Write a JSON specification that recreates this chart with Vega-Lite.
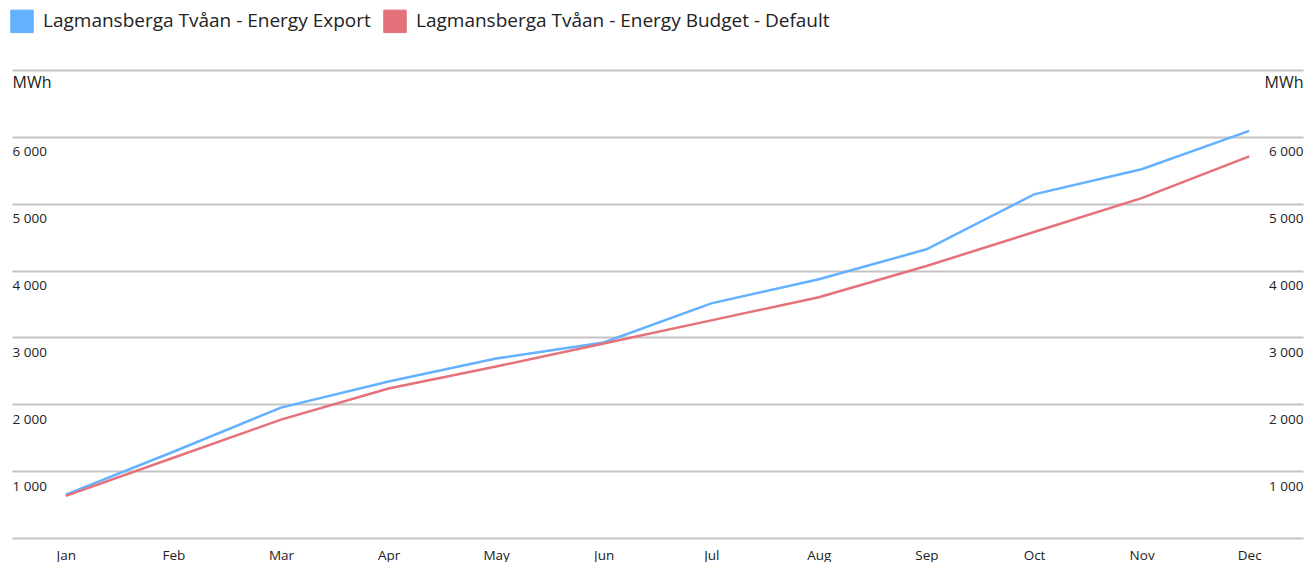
{
  "$schema": "https://vega.github.io/schema/vega-lite/v6.json",
  "width": 1291,
  "height": 468,
  "padding": {"left": 10, "top": 9, "right": 2, "bottom": 0},
  "background": "#ffffff",
  "config": {
    "font": "Open Sans",
    "view": {"stroke": null},
    "axis": {"labelColor": "#222222", "labelFont": "Open Sans"},
    "legend": {"labelFont": "Open Sans"}
  },
  "data": {
    "values": [
      {"month": "Jan", "series": "Lagmansberga Tvåan - Energy Export", "value": 650},
      {"month": "Feb", "series": "Lagmansberga Tvåan - Energy Export", "value": 1290},
      {"month": "Mar", "series": "Lagmansberga Tvåan - Energy Export", "value": 1950},
      {"month": "Apr", "series": "Lagmansberga Tvåan - Energy Export", "value": 2340},
      {"month": "May", "series": "Lagmansberga Tvåan - Energy Export", "value": 2685},
      {"month": "Jun", "series": "Lagmansberga Tvåan - Energy Export", "value": 2925},
      {"month": "Jul", "series": "Lagmansberga Tvåan - Energy Export", "value": 3510},
      {"month": "Aug", "series": "Lagmansberga Tvåan - Energy Export", "value": 3870},
      {"month": "Sep", "series": "Lagmansberga Tvåan - Energy Export", "value": 4318},
      {"month": "Oct", "series": "Lagmansberga Tvåan - Energy Export", "value": 5140},
      {"month": "Nov", "series": "Lagmansberga Tvåan - Energy Export", "value": 5515},
      {"month": "Dec", "series": "Lagmansberga Tvåan - Energy Export", "value": 6090},
      {"month": "Jan", "series": "Lagmansberga Tvåan - Energy Budget - Default", "value": 630},
      {"month": "Feb", "series": "Lagmansberga Tvåan - Energy Budget - Default", "value": 1200},
      {"month": "Mar", "series": "Lagmansberga Tvåan - Energy Budget - Default", "value": 1770},
      {"month": "Apr", "series": "Lagmansberga Tvåan - Energy Budget - Default", "value": 2235},
      {"month": "May", "series": "Lagmansberga Tvåan - Energy Budget - Default", "value": 2565},
      {"month": "Jun", "series": "Lagmansberga Tvåan - Energy Budget - Default", "value": 2910},
      {"month": "Jul", "series": "Lagmansberga Tvåan - Energy Budget - Default", "value": 3255},
      {"month": "Aug", "series": "Lagmansberga Tvåan - Energy Budget - Default", "value": 3600},
      {"month": "Sep", "series": "Lagmansberga Tvåan - Energy Budget - Default", "value": 4068},
      {"month": "Oct", "series": "Lagmansberga Tvåan - Energy Budget - Default", "value": 4577},
      {"month": "Nov", "series": "Lagmansberga Tvåan - Energy Budget - Default", "value": 5083},
      {"month": "Dec", "series": "Lagmansberga Tvåan - Energy Budget - Default", "value": 5708}
    ]
  },
  "encoding": {
    "x": {
      "field": "month",
      "type": "ordinal",
      "sort": ["Jan","Feb","Mar","Apr","May","Jun","Jul","Aug","Sep","Oct","Nov","Dec"],
      "scale": {"type": "point", "padding": 0.5},
      "axis": {
        "title": null,
        "domain": false,
        "ticks": false,
        "grid": false,
        "labelAngle": 0,
        "labelFontSize": 13.5,
        "labelPadding": 10
      }
    }
  },
  "layer": [
    {
      "mark": {"type": "line", "strokeWidth": 2.5},
      "encoding": {
        "color": {
          "field": "series",
          "type": "nominal",
          "scale": {
            "domain": ["Lagmansberga Tvåan - Energy Export", "Lagmansberga Tvåan - Energy Budget - Default"],
            "range": ["#63b1ff", "#e5717a"]
          },
          "legend": {
            "title": null,
            "orient": "none",
            "legendX": -2,
            "legendY": -61,
            "direction": "horizontal",
            "symbolType": "square",
            "symbolSize": 506,
            "symbolStrokeWidth": 1,
            "symbolOpacity": 1,
            "labelFontSize": 19,
            "labelColor": "#222222",
            "labelOffset": 9,
            "columnPadding": 10,
            "labelLimit": 500,
            "encode": {
              "symbols": {
                "update": {
                  "fill": {"scale": "color", "field": "value"},
                  "fillOpacity": {"value": 1},
                  "opacity": {"value": 1}
                }
              }
            }
          }
        },
        "y": {
          "field": "value",
          "type": "quantitative",
          "scale": {"domain": [0, 7000], "nice": false, "zero": true},
          "axis": {
            "orient": "left",
            "title": null,
            "domain": false,
            "ticks": false,
            "grid": true,
            "gridColor": "#c4c4c4",
            "gridWidth": 2,
            "values": [0, 1000, 2000, 3000, 4000, 5000, 6000, 7000],
            "labelAlign": "left",
            "labelBaseline": "top",
            "labelPadding": 0,
            "labelOffset": {"condition": {"test": "datum.value == 7000", "value": 4}, "value": 8},
            "labelFontSize": {"condition": {"test": "datum.value == 7000", "value": 16}, "value": 13.5},
            "labelExpr": "datum.value == 7000 ? 'MWh' : datum.value == 0 ? '' : replace(format(datum.value, ','), ',', ' ')"
          }
        }
      }
    },
    {
      "mark": {"type": "line", "strokeWidth": 2.5, "opacity": 0},
      "encoding": {
        "detail": {"field": "series", "type": "nominal"},
        "y": {
          "field": "value",
          "type": "quantitative",
          "scale": {"domain": [0, 7000], "nice": false, "zero": true},
          "axis": {
            "orient": "right",
            "title": null,
            "domain": false,
            "ticks": false,
            "grid": false,
            "values": [0, 1000, 2000, 3000, 4000, 5000, 6000, 7000],
            "labelAlign": "right",
            "labelBaseline": "top",
            "labelPadding": 0,
            "labelOffset": {"condition": {"test": "datum.value == 7000", "value": 4}, "value": 8},
            "labelFontSize": {"condition": {"test": "datum.value == 7000", "value": 16}, "value": 13.5},
            "labelExpr": "datum.value == 7000 ? 'MWh' : datum.value == 0 ? '' : replace(format(datum.value, ','), ',', ' ')"
          }
        }
      }
    }
  ],
  "resolve": {"axis": {"y": "independent"}}
}
